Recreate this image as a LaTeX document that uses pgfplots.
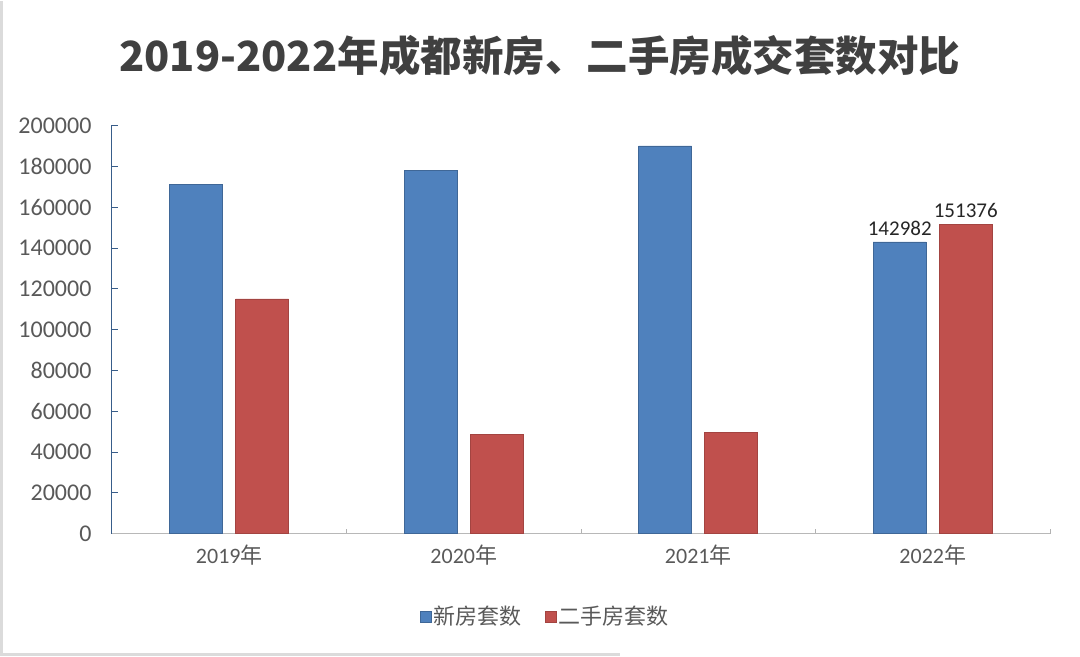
\documentclass[border=0pt]{standalone}
\usepackage{pgfplots}
\pgfplotsset{compat=1.18}
\usepackage{fontspec}
\setmainfont{Carlito}
\newfontfamily\cjk{Noto Sans CJK SC}

\definecolor{newblue}{HTML}{4F81BD}
\definecolor{oldred}{HTML}{C0504D}
\definecolor{txtgray}{HTML}{595959}
\definecolor{titlegray}{HTML}{404040}
\definecolor{axblue}{HTML}{385D8A}

\begin{document}
\begin{tikzpicture}
\begin{axis}[
    name=ax,
    scale only axis,
    width=938pt, height=408pt,
    ybar, bar width=53pt,
    xmin=-0.5, xmax=3.5,
    ymin=0, ymax=200000,
    xtick={0,1,2,3},
    xticklabels={2019{\cjk 年},2020{\cjk 年},2021{\cjk 年},2022{\cjk 年}},
    minor xtick={0.5,1.5,2.5,3.5},
    ytick={0,20000,...,200000},
    scaled y ticks=false,
    /pgf/number format/assume math mode=true,
    yticklabel={\pgfmathprintnumber[fixed,1000 sep={}]{\tick}},
    axis x line*=bottom, axis y line*=left,
    x axis line style={color=black!28, -},
    y axis line style={color=axblue, line width=1pt, -},
    tick align=inside,
    major tick length=6pt, minor tick length=5pt,
    xtick style={draw=none},
    minor x tick style={draw=black!30},
    ytick style={color=axblue, line width=0.8pt},
    ticklabel style={font=\fontsize{23}{26}\selectfont, text=txtgray},
    yticklabel style={xshift=-17pt, font=\fontsize{24}{26}\selectfont},
    xticklabel style={yshift=-8pt, font=\fontsize{22}{26}\selectfont},
    title={{\cjk\bfseries 2019-2022年成都新房、二手房成交套数对比}},
    title style={at={(0.456,1.157)}, anchor=center, font=\fontsize{41.5}{48}\selectfont, text=titlegray},
    legend style={at={(0.462,-0.203)}, anchor=center, draw=none, fill=none,
        legend columns=2, font=\cjk\fontsize{22}{26}\selectfont, text=txtgray,
        /tikz/every even column/.append style={column sep=22pt}},
    legend image code/.code={\fill[#1] (0pt,-5.5pt) rectangle (11pt,5.5pt);},
    point meta=explicit symbolic,
    nodes near coords,
    every node near coord/.append style={font=\fontsize{21}{24}\selectfont, text=black!85, yshift=3pt},
]
\addplot[bar shift=-33pt, fill=newblue, draw=newblue!80!black, line width=0.5pt]
    coordinates {(0,171000) [] (1,178000) [] (2,190000) [] (3,142982) [142982]};
\addplot[bar shift=33pt, fill=oldred, draw=oldred!85!black, line width=0.5pt]
    coordinates {(0,115000) [] (1,48500) [] (2,49500) [] (3,151376) [151376]};
\legend{新房套数,二手房套数}
\end{axis}
\draw[line width=3pt, color=black!14]
    ([xshift=-110.5pt,yshift=532pt]ax.south west) -- ([xshift=-110.5pt,yshift=-120.5pt]ax.south west)
    -- ([xshift=508pt,yshift=-120.5pt]ax.south west);
\path ([xshift=-112pt,yshift=-123pt]ax.south west) rectangle ([xshift=968pt,yshift=532pt]ax.south west);
\end{tikzpicture}
\end{document}
